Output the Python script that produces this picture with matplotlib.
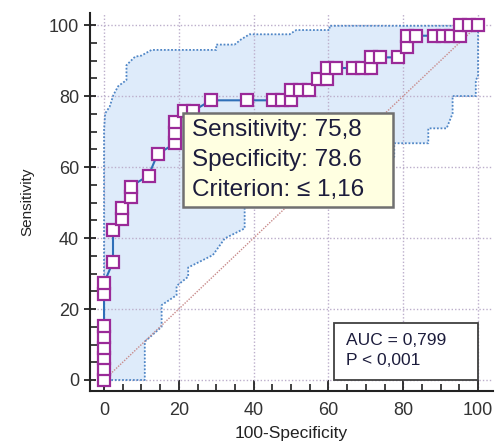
import matplotlib
matplotlib.use("Agg")
import matplotlib.pyplot as plt
from matplotlib.patches import Rectangle
from matplotlib.ticker import MultipleLocator

plt.rcParams['font.family'] = ['Liberation Sans', 'DejaVu Sans']

# ROC points (100-Specificity, Sensitivity)
roc_x = [0, 0, 0, 0, 0, 0, 0, 0, 2.4, 2.4, 4.8, 4.8, 7.1, 7.1, 11.9, 14.3,
         19.0, 19.0, 19.0, 21.4, 23.8, 28.6, 38.1, 45.2, 47.6, 50.0, 50.0,
         52.4, 54.8, 57.1, 59.5, 59.5, 61.9, 66.7, 69.0, 71.4, 71.4, 73.8,
         78.6, 81.0, 81.0, 83.3, 88.1, 90.5, 92.9, 95.2, 95.2, 97.6, 100]
roc_y = [0, 3.0, 6.1, 9.1, 12.1, 15.2, 24.2, 27.3, 33.3, 42.4, 45.5, 48.5,
         51.5, 54.5, 57.6, 63.6, 66.7, 69.7, 72.7, 75.8, 75.8, 78.8, 78.8,
         78.8, 78.8, 78.8, 81.8, 81.8, 81.8, 84.8, 84.8, 87.9, 87.9, 87.9,
         87.9, 87.9, 90.9, 90.9, 90.9, 93.9, 97.0, 97.0, 97.0, 97.0, 97.0,
         97.0, 100, 100, 100]

# confidence bounds
upper_x = [0, 0, 0.3, 1.5, 2.5, 3.8, 6.0, 6.0, 8.3, 10.0, 12.7, 30.0, 30.0,
           34.9, 36.7, 38.9, 49.6, 51.4, 60.3, 60.3, 100]
upper_y = [0, 70.4, 75.1, 77.0, 80.3, 82.8, 84.5, 88.7, 91.1, 91.4, 93.0,
           93.0, 94.5, 94.5, 96.0, 97.4, 97.4, 98.6, 98.6, 99.8, 99.8]
lower_x = [0, 10.9, 10.9, 15.4, 15.4, 19.4, 19.4, 22.5, 22.5, 29.1, 32.3,
           37.6, 37.6, 50, 60, 70, 77.6, 77.6, 86.7, 86.7, 91.6, 93.2, 93.2,
           99.4, 99.4, 100, 100]
lower_y = [0, 0, 10.8, 15.0, 21.1, 23.9, 26.5, 29.1, 31.7, 35.2, 39.9, 42.7,
           48.5, 52, 56, 60, 62.9, 66.7, 66.7, 70.9, 70.9, 75.1, 80, 80, 84.5,
           85.5, 100]

info_lines = ["Sensitivity: 75,8", "Specificity: 78.6", "Criterion: \u2264 1,16"]
auc_lines = ["AUC = 0,799", "P < 0,001"]

fig = plt.figure(figsize=(4.96, 4.44), dpi=100)
ax = fig.add_axes([90/496, 53/444, 403/496, 378/444])

# band
ax.fill(upper_x + lower_x[::-1], upper_y + lower_y[::-1],
        color='#deebfa', lw=0, zorder=1)
ax.plot(upper_x, upper_y, ls=(0, (1, 1)), color='#4f86c6', lw=1.3, zorder=2)
ax.plot(lower_x, lower_y, ls=(0, (1, 1)), color='#4f86c6', lw=1.3, zorder=2)

# diagonal
ax.plot([0, 100], [0, 100], ls=(0, (1, 1)), color='#c88a8a', lw=1, zorder=2)

ax.plot(roc_x, roc_y, color='#2f6fb8', lw=1.5, zorder=3,
        marker='s', ms=8, mfc='white', mec='#9a2a98', mew=1.6)

ax.set_xlim(-3.75, 104)
ax.set_ylim(-3.1, 103.4)
ax.xaxis.set_major_locator(MultipleLocator(20))
ax.xaxis.set_minor_locator(MultipleLocator(5))
ax.yaxis.set_major_locator(MultipleLocator(20))
ax.yaxis.set_minor_locator(MultipleLocator(5))
ax.grid(True, which='major', ls=(0, (1, 1.5)), color='#bcaecb', lw=1)

for s in ['top', 'right']:
    ax.spines[s].set_visible(False)
for s in ['left', 'bottom']:
    ax.spines[s].set_linewidth(1.5)
    ax.spines[s].set_color('#222222')

ax.tick_params(which='major', length=9, width=1.3, labelsize=13,
               labelcolor='#333333', color='#222222')
ax.tick_params(axis='y', which='major', direction='inout')
ax.tick_params(axis='x', which='major', direction='in', length=8, pad=8)
ax.tick_params(which='minor', direction='in', length=5, width=1.2,
               color='#222222')

ax.set_xlabel('100-Specificity', fontsize=12.5, color='#222222', labelpad=5)
ax.set_ylabel('Sensitivity', fontsize=11, color='#222222', labelpad=10)

# tooltip box
ax.add_patch(Rectangle((21.1, 48.7), 56.1, 26.5, facecolor='#ffffe1',
                       edgecolor='#707070', lw=1.8, zorder=5))
for i, t in enumerate(info_lines):
    ax.text(23.6, 70.4 - i * 8.4, t, fontsize=17.5, color='#1c1c3c',
            va='center', ha='left', zorder=6)

# AUC box
ax.add_patch(Rectangle((61.6, 0), 38.4, 16.1, facecolor='white',
                       edgecolor='#404040', lw=1.3, zorder=5))
for i, t in enumerate(auc_lines):
    ax.text(64.6, 11.2 - i * 5.8, t, fontsize=12.5, color='#1c1c3c',
            va='center', ha='left', zorder=6)

fig.savefig('out.png', dpi=100)
